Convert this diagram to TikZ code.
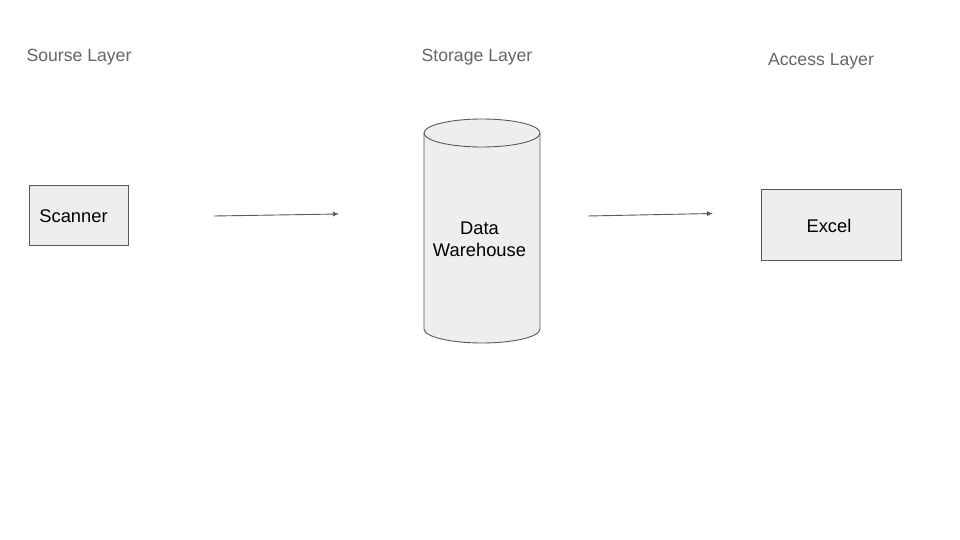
\documentclass[tikz,border=0pt]{standalone}
\usepackage{fontspec}
\setmainfont{Liberation Sans}
\usetikzlibrary{arrows.meta}
\definecolor{lbl}{HTML}{666666}
\definecolor{edgec}{HTML}{595959}
\definecolor{boxfill}{HTML}{EEEEEE}
\begin{document}
\begin{tikzpicture}[x=1bp,y=-1bp,
  layer/.style={text=lbl,font=\fontsize{17.7}{20}\selectfont,inner sep=0,anchor=base},
  boxnode/.style={draw=edgec,fill=boxfill,line width=0.9bp,inner sep=0},
  txt/.style={font=\fontsize{18.4}{22}\selectfont,inner sep=0,text=black},
  flow/.style={draw=edgec,line width=0.9bp,-{Latex[length=6bp,width=5bp]}}]
\useasboundingbox[fill=white] (0,0) rectangle (960,540);

% layer titles
\node[layer] (srcl) at (79,61.5) {Sourse Layer};
\node[layer] (stol) at (477,61.5) {Storage Layer};
\node[layer] (accl) at (821,66) {Access Layer};

% scanner
\node[boxnode,minimum width=99bp,minimum height=60bp] (scanner) at (78.7,215) {};
\node[txt] (scannertxt) at (73.5,216) {Scanner};

% cylinder
\draw[draw=edgec,fill=boxfill,line width=0.9bp]
  (424,133) -- (424,329) arc[start angle=180,end angle=360,x radius=58,y radius=-14]
  -- (540,133) arc[start angle=0,end angle=180,x radius=58,y radius=-14] -- cycle;
\draw[draw=edgec,line width=0.9bp] (424,133) arc[start angle=180,end angle=360,x radius=58,y radius=-14];
\node[txt,align=center] (dw) at (479.5,239) {Data\\Warehouse};

% excel
\node[boxnode,minimum width=140bp,minimum height=71bp] (excel) at (831,224.5) {};
\node[txt] (exceltxt) at (829,226) {Excel};

% arrows
\coordinate (a1s) at (214,216);
\coordinate (a1e) at (339,214);
\coordinate (a2s) at (588,216);
\coordinate (a2e) at (713,213.5);
\draw[flow] (a1s) -- (a1e);
\draw[flow] (a2s) -- (a2e);
\end{tikzpicture}
\end{document}
